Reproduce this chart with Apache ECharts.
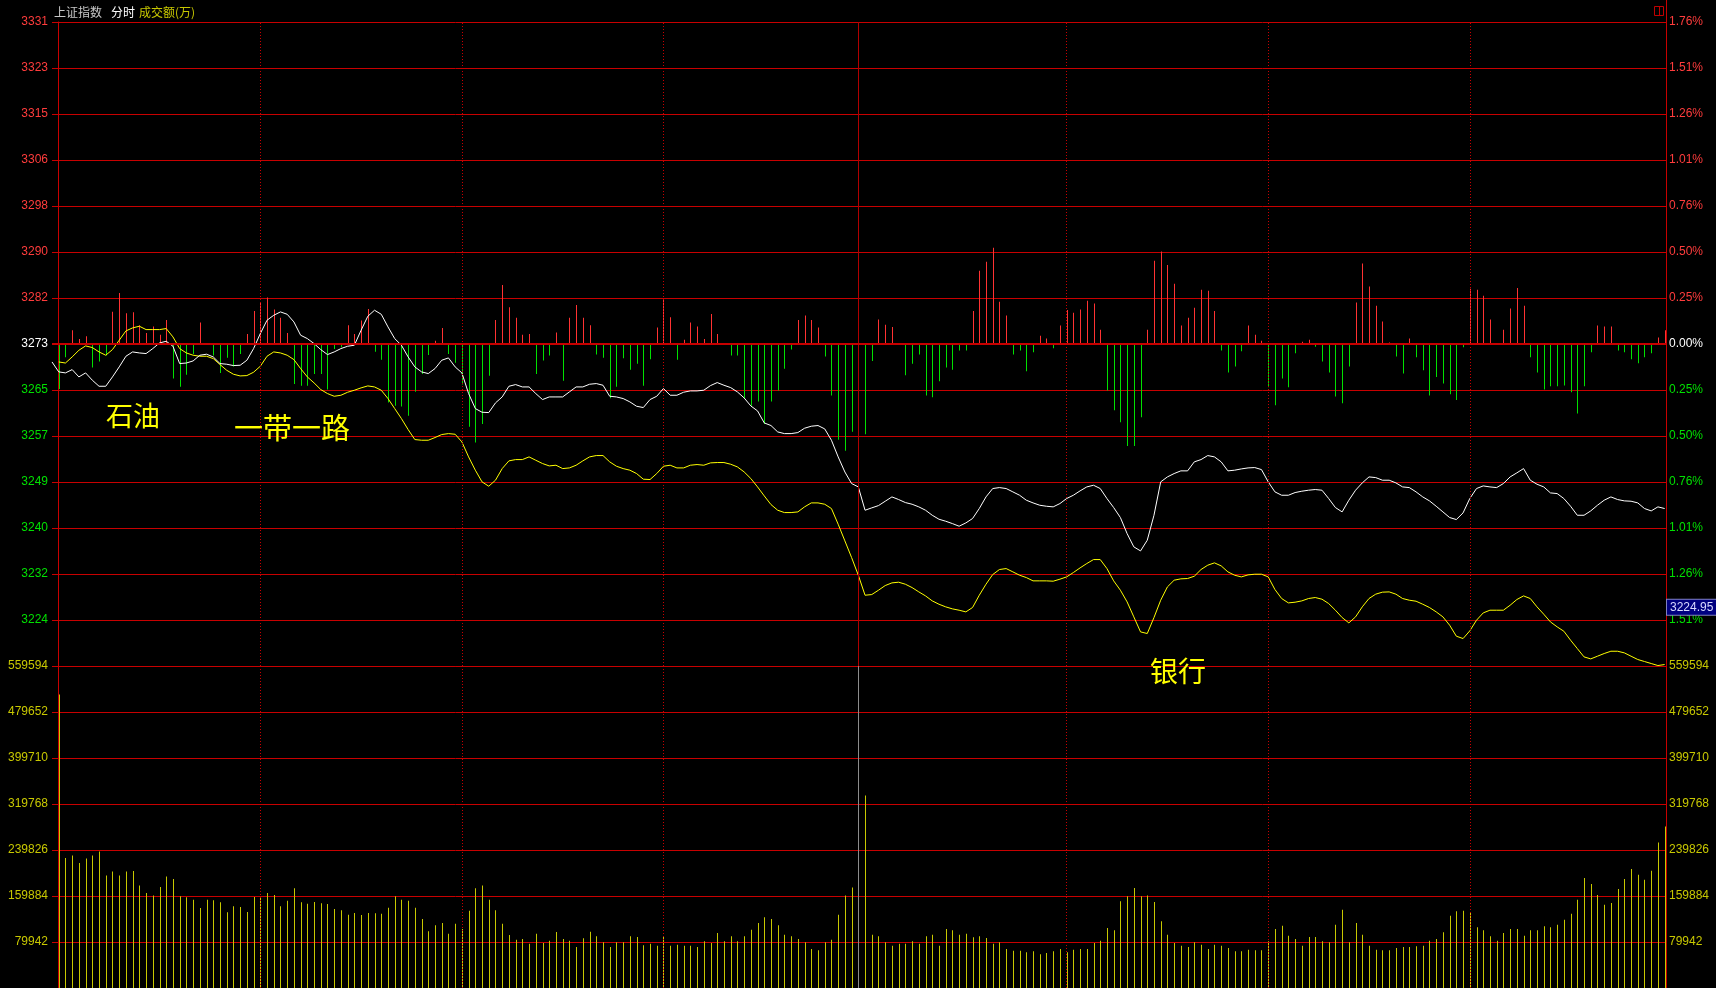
<!DOCTYPE html>
<html>
<head>
<meta charset="utf-8">
<title>上证指数 分时</title>
<script src="https://cdn.jsdelivr.net/npm/echarts/dist/echarts.min.js"></script>
<style>
  html, body { margin: 0; padding: 0; background: #000; }
  #chart { width: 1716px; height: 988px; }
</style>
</head>
<body>
<div id="chart"></div>
<script>
// 昨收和每格涨跌幅
var BASE = 3273.4;
var STEP = 1.76 / 7;
var LAST_PRICE = 3224.95;

var priceLabels = ['3331', '3323', '3315', '3306', '3298', '3290', '3282', '3273',
                   '3265', '3257', '3249', '3240', '3232', '3224'];
var pctLabels = ['1.76%', '1.51%', '1.26%', '1.01%', '0.76%', '0.50%', '0.25%', '0.00%',
                 '0.25%', '0.50%', '0.76%', '1.01%', '1.26%', '1.51%'];

// 上证指数(白线)，第一个是开盘点
var whitePrice = [3270.19,
  3268.41,3268.23,3268.82,3267.51,3268.23,3266.92,3265.84,3265.84,3267.51,3269.30,
  3271.21,3271.98,3271.80,3271.69,3272.58,3273.59,3273.89,3273.00,3269.90,3270.00,
  3270.37,3271.39,3271.57,3271.09,3269.90,3269.78,3269.54,3269.60,3270.49,3272.58,
  3275.26,3277.65,3278.54,3279.14,3278.72,3277.35,3274.97,3274.37,3273.47,3272.40,
  3271.51,3271.98,3272.58,3273.00,3273.18,3275.86,3278.36,3279.44,3278.72,3276.46,
  3274.37,3273.18,3271.09,3269.30,3268.41,3268.11,3269.00,3270.49,3270.91,3269.30,
  3268.23,3264.53,3261.85,3261.19,3261.13,3262.86,3263.93,3265.84,3266.14,3265.72,
  3265.72,3264.53,3263.46,3263.93,3263.93,3263.93,3264.83,3265.72,3265.72,3266.20,
  3266.32,3266.02,3264.05,3263.93,3263.64,3263.04,3262.26,3262.03,3263.46,3264.05,
  3265.43,3264.23,3264.23,3264.77,3265.01,3265.01,3265.13,3265.96,3266.50,3266.02,
  3265.60,3264.83,3263.76,3262.32,3261.43,3259.28,3258.81,3257.67,3257.37,3257.37,
  3257.55,3258.33,3258.69,3258.81,3258.21,3256.18,3253.20,3250.50,3248.43,3247.83,
  3243.66,3244.08,3244.49,3245.27,3246.04,3245.57,3245.03,3244.73,3244.26,3243.66,
  3242.76,3242.05,3241.69,3241.27,3240.80,3241.39,3242.17,3243.96,3246.04,3247.54,
  3247.71,3247.54,3246.94,3246.34,3245.45,3244.97,3244.55,3244.37,3244.26,3244.85,
  3245.75,3246.34,3247.12,3247.83,3248.13,3247.54,3245.75,3244.14,3242.35,3239.48,
  3237.10,3236.38,3238.29,3242.76,3248.73,3249.62,3250.22,3250.70,3250.70,3252.31,
  3252.72,3253.44,3253.20,3252.31,3250.70,3250.82,3251.05,3251.23,3251.29,3250.93,
  3248.73,3246.94,3246.34,3246.34,3246.82,3247.06,3247.24,3247.36,3247.24,3245.75,
  3244.14,3243.36,3245.45,3247.24,3248.55,3249.62,3249.50,3249.03,3249.03,3248.55,
  3247.83,3247.71,3246.94,3246.04,3245.33,3244.37,3243.36,3242.35,3241.99,3243.18,
  3245.75,3247.54,3248.01,3247.83,3247.71,3248.43,3249.62,3250.34,3251.11,3249.03,
  3248.31,3247.83,3246.76,3246.64,3245.75,3244.37,3242.76,3242.76,3243.54,3244.55,
  3245.45,3246.04,3245.57,3245.33,3245.27,3244.97,3243.96,3243.54,3244.26,3243.96];

// 黄线
var yellowPrice = [
  3270.19,3270.00,3271.09,3272.28,3273.06,3272.76,3271.98,3271.39,3272.40,3274.07,
  3275.74,3276.28,3276.58,3275.98,3275.98,3275.98,3276.16,3274.67,3272.58,3271.80,
  3271.39,3271.21,3271.21,3270.79,3269.72,3268.70,3267.99,3267.69,3267.75,3268.35,
  3269.42,3271.21,3271.98,3271.80,3271.39,3270.61,3269.00,3267.51,3266.44,3265.25,
  3264.53,3264.05,3264.23,3264.77,3265.13,3265.55,3265.90,3265.72,3265.13,3263.64,
  3261.85,3260.06,3258.09,3256.30,3256.18,3256.18,3256.66,3257.20,3257.37,3257.25,
  3255.88,3253.20,3250.82,3248.73,3247.95,3249.03,3251.11,3252.49,3252.72,3252.72,
  3253.20,3252.60,3252.01,3251.59,3251.71,3251.11,3251.23,3251.71,3252.49,3253.20,
  3253.44,3253.44,3252.31,3251.53,3251.11,3250.82,3250.22,3249.21,3249.15,3250.22,
  3251.53,3251.71,3251.23,3251.23,3251.71,3251.83,3251.71,3252.13,3252.19,3252.19,
  3251.89,3251.41,3250.52,3249.33,3247.83,3246.22,3244.67,3243.66,3243.24,3243.24,
  3243.36,3244.26,3244.97,3244.97,3244.73,3243.96,3241.15,3238.17,3235.19,3232.03,
  3228.45,3228.57,3229.35,3230.18,3230.66,3230.78,3230.42,3229.82,3229.05,3228.33,
  3227.44,3226.84,3226.37,3226.01,3225.77,3225.47,3226.25,3228.45,3230.42,3232.15,
  3233.05,3233.22,3232.63,3232.03,3231.61,3231.02,3231.02,3231.02,3230.96,3231.32,
  3231.73,3232.51,3233.34,3234.12,3234.83,3234.83,3233.22,3231.02,3229.35,3227.26,
  3224.58,3221.89,3221.60,3224.46,3227.56,3229.94,3231.14,3231.38,3231.44,3231.85,
  3233.05,3233.82,3234.24,3233.70,3232.63,3232.03,3231.73,3232.09,3232.21,3232.21,
  3231.73,3229.47,3227.86,3227.08,3227.20,3227.44,3227.86,3228.04,3227.74,3226.96,
  3225.77,3224.46,3223.50,3224.58,3226.37,3227.86,3228.64,3229.00,3229.05,3228.64,
  3227.86,3227.56,3227.38,3226.84,3226.25,3225.47,3224.58,3223.09,3221.12,3220.70,
  3222.07,3223.98,3225.29,3225.77,3225.77,3225.77,3226.66,3227.68,3228.33,3227.86,
  3226.37,3225.06,3223.68,3222.79,3222.01,3220.40,3218.91,3217.42,3217.06,3217.54,
  3218.02,3218.43,3218.43,3218.14,3217.54,3216.95,3216.59,3216.23,3215.87,3216.05];

// 红绿柱
var strength = [
  -98,-29,30,11,17,-51,-38,-25,70,111,
  67,69,41,24,38,20,52,-75,-93,-67,
  -22,47,-2,-25,-63,-30,-49,-22,22,72,
  89,101,75,57,24,-87,-91,-91,-65,-65,
  -99,-11,-7,41,22,51,76,-17,-34,-127,
  -134,-136,-156,-104,-65,-24,7,35,-22,-41,
  -88,-180,-214,-174,-69,52,128,80,57,20,
  22,-65,-36,-25,25,-80,57,85,57,41,
  -23,-30,-118,-93,-31,-56,-43,-91,-33,36,
  98,58,-34,9,47,38,11,65,22,-2,
  -25,-25,-118,-134,-125,-174,-125,-101,-54,-12,
  52,62,52,36,-27,-112,-208,-232,-191,-141,
  -196,-37,53,42,37,0,-68,-43,-23,-112,
  -116,-81,-51,-56,-14,-14,72,159,179,209,
  92,62,-23,-14,-59,-18,18,12,-9,40,
  74,68,75,94,88,31,-101,-144,-170,-222,
  -222,-159,31,181,201,172,131,40,57,79,
  118,116,72,-14,-62,-49,-16,40,20,7,
  -94,-133,-75,-94,-20,5,9,-6,-38,-62,
  -114,-129,-49,90,175,125,83,49,3,-27,
  -64,12,-29,-57,-112,-72,-86,-109,-122,-7,
  120,118,105,53,0,31,77,122,83,-29,
  -62,-99,-92,-92,-90,-105,-151,-92,-18,40,
  38,38,-14,-18,-33,-42,-29,-20,14,30];

// 成交额(万)
var volume = [
  510280,226080,230140,217380,224920,230140,237100,195340,202300,195340,
  202300,203460,177940,165180,160540,175620,193600,189540,159380,157640,
  153580,139080,153580,152420,148940,131540,141980,140820,132120,158220,
  157640,165180,161700,141980,151840,173300,148940,146620,149520,147200,
  146040,137340,135020,127480,130380,126900,130380,129800,129220,139660,
  159380,153580,151840,139660,119940,98480,108920,112980,94420,111820,
  102540,134440,173300,177940,153580,135020,111820,92100,83980,85140,
  77020,94420,78180,82240,97320,85140,82240,71220,86300,97900,
  89780,79340,71220,79340,79340,89780,88620,74120,77020,73540,
  88620,73540,75280,73540,73540,71220,81080,78180,95580,81080,
  89780,81080,89780,101380,112980,122840,119940,108920,92680,89780,
  85140,79340,67740,65420,79340,83980,127480,160540,174460,176780,
  334540,92680,89780,79340,73540,77020,77020,81080,77020,89780,
  92680,73540,102540,100220,92680,94420,88040,89780,86880,77020,
  79340,67740,64840,64840,61940,63680,58460,60780,63680,67740,
  61940,66580,67740,67740,78180,82240,104280,100220,150680,159380,
  173880,159380,160540,149520,115880,92680,78180,73540,71220,79340,
  75280,67740,75280,73540,69480,63680,63680,66580,65420,65420,
  81080,102540,108340,90940,85140,73540,88620,88620,81080,79340,
  110080,136180,79340,112980,92680,73540,66580,65420,65420,69480,
  71220,71220,72380,73540,82240,85140,96740,125740,133280,134440,
  130380,105440,100220,89780,82240,95580,102540,102540,90940,100220,
  100220,107180,105440,110080,118780,129220,153580,191280,180840,161700,
  144880,147780,172140,189540,206800,196900,188200,203900,253000,280800];

// 半小时分隔线(分钟序号)，午间收盘线
var halfHourIdx = [30, 60, 90, 150, 180, 210];
var noonIdx = 119;

var gridRed = '#c80000';
var labelRed = '#ff3c3c';
var labelGreen = '#00e000';
var volYellow = '#c8c800';
var numFont = '"Liberation Sans", Arial, sans-serif';
var cjkFont = '"Noto Sans CJK SC", sans-serif';

function toGrid(p) {
  return (p / BASE - 1) * 100 / STEP;
}

function priceColor(v) {
  var k = Math.round(parseFloat(v));
  return k > 0 ? labelRed : (k < 0 ? labelGreen : '#ffffff');
}

// 1像素宽的柱子，对齐到整像素
function thinBar(colorOf) {
  return function (params, api) {
    var v = api.value(1);
    var top = api.coord([api.value(0), v]);
    var base = api.coord([api.value(0), 0]);
    var y1 = Math.min(top[1], base[1]);
    var y2 = Math.max(top[1], base[1]);
    return {
      type: 'rect',
      shape: { x: Math.round(top[0]), y: y1, width: 1, height: y2 - y1 },
      style: { fill: colorOf(v) }
    };
  };
}

function vLineData(noonColor) {
  var d = halfHourIdx.map(function (v) { return { xAxis: v }; });
  d.push({ xAxis: noonIdx, lineStyle: { type: 'solid', color: noonColor } });
  return d;
}

var chart = echarts.init(document.getElementById('chart'));

var option = {
  backgroundColor: '#000000',
  animation: false,
  grid: [
    { left: 52, right: 50, top: 22, height: 644 },
    { left: 52, right: 50, top: 666, height: 322 }
  ],
  xAxis: [
    { type: 'value', gridIndex: 0, min: -1, max: 239.2, show: false },
    { type: 'value', gridIndex: 1, min: -1, max: 239.2, show: false }
  ],
  yAxis: [
    {
      type: 'value', gridIndex: 0, position: 'left', min: -7, max: 7, interval: 1,
      axisLine: { show: true, lineStyle: { color: gridRed } },
      axisTick: { show: false },
      splitLine: { show: true, lineStyle: { color: gridRed, width: 1 } },
      axisLabel: {
        margin: 4, fontSize: 12, fontFamily: numFont,
        formatter: function (v) { return priceLabels[7 - Math.round(v)] || ''; },
        color: priceColor
      }
    },
    {
      type: 'value', gridIndex: 0, position: 'right', min: -7, max: 7, interval: 1,
      axisLine: { show: true, lineStyle: { color: gridRed } },
      axisTick: { show: false },
      splitLine: { show: false },
      axisLabel: {
        margin: 3, fontSize: 12, fontFamily: numFont,
        formatter: function (v) { return pctLabels[7 - Math.round(v)] || ''; },
        color: priceColor
      }
    },
    { type: 'value', gridIndex: 0, min: -700, max: 700, show: false },
    {
      type: 'value', gridIndex: 1, position: 'left', min: 0, max: 559594, interval: 79942,
      axisLine: { show: true, lineStyle: { color: gridRed } },
      axisTick: { show: false },
      splitLine: { show: true, lineStyle: { color: gridRed, width: 1 } },
      axisLabel: {
        margin: 4, fontSize: 12, fontFamily: numFont, color: volYellow,
        formatter: function (v) { return v ? String(v) : ''; }
      }
    },
    {
      type: 'value', gridIndex: 1, position: 'right', min: 0, max: 559594, interval: 79942,
      axisLine: { show: true, lineStyle: { color: gridRed } },
      axisTick: { show: false },
      splitLine: { show: false },
      axisLabel: {
        margin: 3, fontSize: 12, fontFamily: numFont, color: volYellow,
        formatter: function (v) { return v ? String(v) : ''; }
      }
    }
  ],
  series: [
    {
      name: '红绿柱', type: 'custom', xAxisIndex: 0, yAxisIndex: 2,
      data: strength.map(function (v, i) { return [i, v]; }),
      encode: { x: 0, y: 1 },
      renderItem: thinBar(function (v) { return v >= 0 ? '#ff3232' : '#00e000'; }),
      z: 2
    },
    {
      name: '黄线', type: 'line', xAxisIndex: 0, yAxisIndex: 0,
      data: yellowPrice.map(function (p, i) { return [i, toGrid(p)]; }),
      symbol: 'none', lineStyle: { color: '#ffff00', width: 1 }, z: 3,
      markLine: {
        silent: true, symbol: ['none', 'none'], label: { show: false },
        lineStyle: { color: gridRed, type: [1, 2], width: 1 },
        data: vLineData('#b00000').concat([{ yAxis: 0, lineStyle: { type: 'solid', width: 2, color: gridRed } }])
      }
    },
    {
      name: '上证指数', type: 'line', xAxisIndex: 0, yAxisIndex: 0,
      data: whitePrice.map(function (p, i) { return [i - 1, toGrid(p)]; }),
      symbol: 'none', lineStyle: { color: '#ffffff', width: 1 }, z: 4
    },
    {
      name: '成交额', type: 'custom', xAxisIndex: 1, yAxisIndex: 3,
      data: volume.map(function (v, i) { return [i, v]; }),
      encode: { x: 0, y: 1 },
      renderItem: thinBar(function () { return volYellow; }),
      z: 2
    },
    {
      // 只用来挂成交额区的竖分隔线
      name: '分隔', type: 'line', xAxisIndex: 1, yAxisIndex: 3,
      data: volume.map(function (v, i) { return [i, v]; }),
      symbol: 'none', lineStyle: { opacity: 0 }, z: 1,
      markLine: {
        silent: true, symbol: ['none', 'none'], label: { show: false },
        lineStyle: { color: gridRed, type: [1, 2], width: 1 },
        data: vLineData('#8c8c8c')
      }
    }
  ]
};

chart.setOption(option);

// 最新价标签放在右轴上
var yLast = chart.convertToPixel({ yAxisIndex: 0 }, toGrid(LAST_PRICE));

chart.setOption({
  graphic: [
    { type: 'text', x: 54, y: 12, style: { text: '上证指数', fill: '#c8c8c8', font: '12px ' + cjkFont, verticalAlign: 'middle', textVerticalAlign: 'middle' } },
    { type: 'text', x: 111, y: 12, style: { text: '分时', fill: '#ffffff', font: '12px ' + cjkFont, verticalAlign: 'middle', textVerticalAlign: 'middle' } },
    { type: 'text', x: 139, y: 12, style: { text: '成交额(万)', fill: volYellow, font: '12px ' + cjkFont, verticalAlign: 'middle', textVerticalAlign: 'middle' } },
    { type: 'rect', shape: { x: 1654.5, y: 6.5, width: 9, height: 9 }, style: { fill: 'none', stroke: '#c00000', lineWidth: 1 } },
    { type: 'line', shape: { x1: 1659.5, y1: 6.5, x2: 1659.5, y2: 15.5 }, style: { stroke: '#c00000', lineWidth: 1 } },
    { type: 'line', shape: { x1: 1666.5, y1: 0, x2: 1666.5, y2: 22 }, style: { stroke: gridRed, lineWidth: 1 } },
    { type: 'text', x: 106, y: 416, style: { text: '石油', fill: '#ffff00', font: '27px ' + cjkFont, verticalAlign: 'middle', textVerticalAlign: 'middle', textShadowColor: '#5a5a00', textShadowOffsetX: 1, textShadowOffsetY: 1 } },
    { type: 'text', x: 234, y: 428, style: { text: '一带一路', fill: '#ffff00', font: '29px ' + cjkFont, verticalAlign: 'middle', textVerticalAlign: 'middle', textShadowColor: '#5a5a00', textShadowOffsetX: 1, textShadowOffsetY: 1 } },
    { type: 'text', x: 1150, y: 671, style: { text: '银行', fill: '#ffff00', font: '28px ' + cjkFont, verticalAlign: 'middle', textVerticalAlign: 'middle', textShadowColor: '#5a5a00', textShadowOffsetX: 1, textShadowOffsetY: 1 } },
    {
      type: 'text', x: 1667, y: yLast, z: 100,
      style: {
        text: LAST_PRICE.toFixed(2), fill: '#d8d8ff', font: '12px ' + numFont,
        verticalAlign: 'bottom', textVerticalAlign: 'bottom',
        backgroundColor: '#000080', borderColor: '#8080c0', borderWidth: 1, padding: [2, 3, 1, 3]
      }
    }
  ]
});
</script>
</body>
</html>
